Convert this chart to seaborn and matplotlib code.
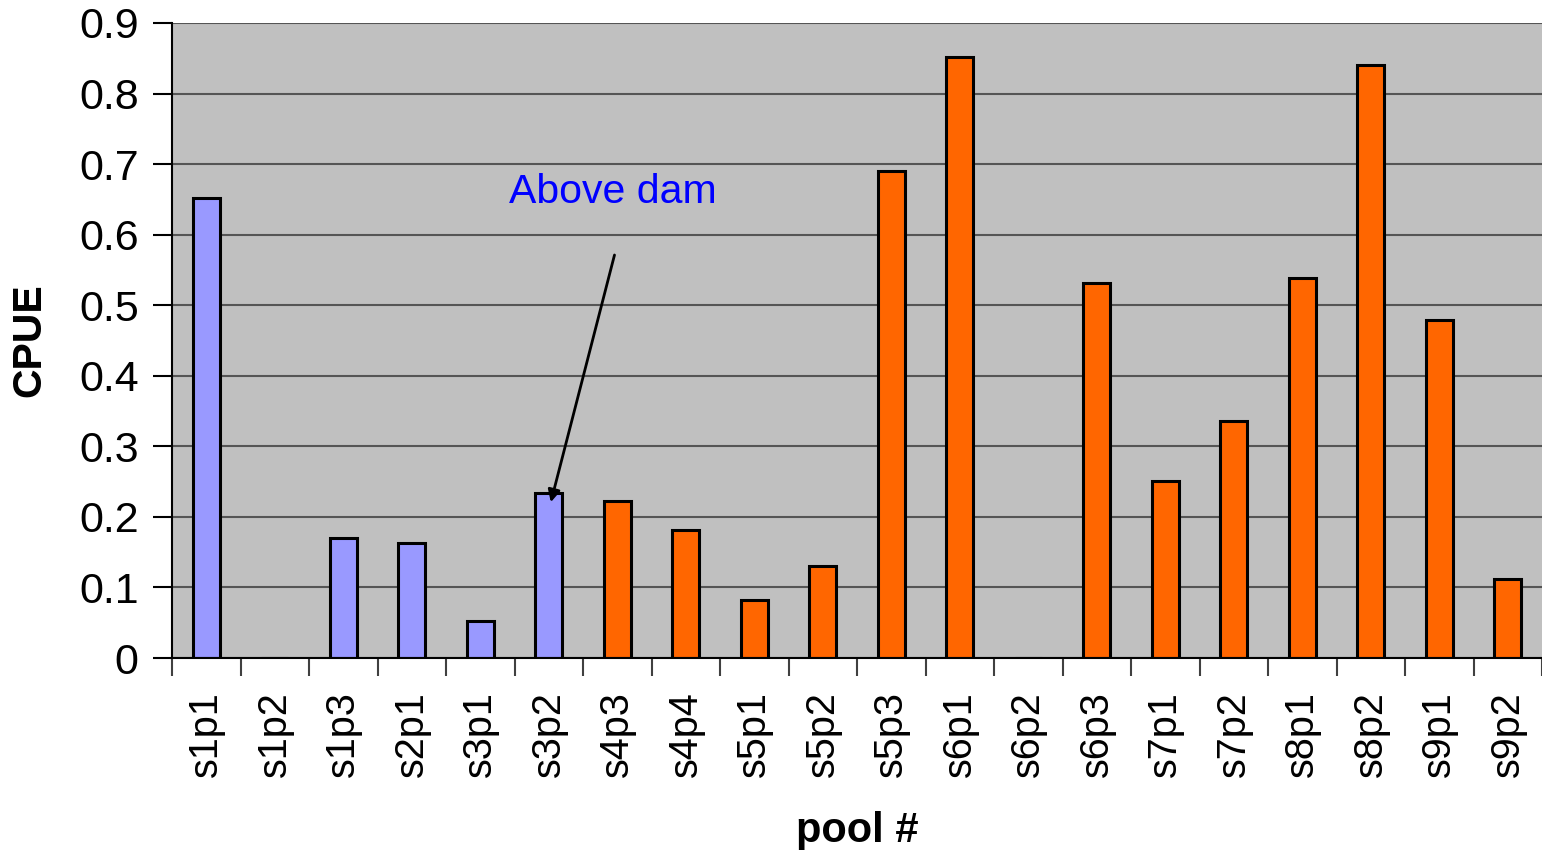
import numpy as np
import pandas as pd
import matplotlib
matplotlib.use("Agg")
import matplotlib.pyplot as plt
import seaborn as sns

pools = ["s1p1", "s1p2", "s1p3", "s2p1", "s3p1", "s3p2", "s4p3", "s4p4", "s5p1", "s5p2",
         "s5p3", "s6p1", "s6p2", "s6p3", "s7p1", "s7p2", "s8p1", "s8p2", "s9p1", "s9p2"]
cpue = [0.652, 0.0, 0.170, 0.163, 0.052, 0.234, 0.222, 0.181, 0.082, 0.130,
        0.690, 0.852, 0.0, 0.531, 0.251, 0.336, 0.539, 0.840, 0.479, 0.112]
location = ["Above dam"] * 6 + ["Below dam"] * 14
yticks = [0, 0.1, 0.2, 0.3, 0.4, 0.5, 0.6, 0.7, 0.8, 0.9]

df = pd.DataFrame({"pool": pools, "CPUE": cpue, "loc": location})

sns.set_style("white")
plt.rcParams["font.family"] = ["Liberation Sans", "DejaVu Sans"]
plt.rcParams["text.color"] = "black"
plt.rcParams["axes.labelcolor"] = "black"
plt.rcParams["xtick.color"] = "black"
plt.rcParams["ytick.color"] = "black"

fig = plt.figure(figsize=(15.42, 8.5), dpi=100)
ax = fig.add_axes([172 / 1542, (850 - 658) / 850, 1 - 172 / 1542, (658 - 23) / 850])
ax.set_facecolor("#C0C0C0")
ax.set_axisbelow(True)

sns.barplot(data=df, x="pool", y="CPUE", hue="loc", order=pools,
            palette={"Above dam": "#9999FF", "Below dam": "#FF6600"},
            saturation=1, dodge=False, width=0.4, edgecolor="black", linewidth=2.2,
            legend=False, ax=ax)

ax.set_xlim(-0.5, len(pools) - 0.5)
ax.set_ylim(0, 0.9)
ax.set_yticks(yticks)
ax.set_yticklabels([f"{v:g}" for v in yticks])
ax.yaxis.grid(True, color="#555555", linewidth=1.5)
ax.xaxis.grid(False)

ax.set_xticks(range(len(pools)))
ax.set_xticklabels(pools, rotation=90)
ax.set_xticks(np.arange(-0.5, len(pools), 1), minor=True)
ax.tick_params(axis="x", which="major", bottom=True, length=0, labelsize=28.5, pad=24,
               labelcolor="black")
ax.tick_params(axis="x", which="minor", bottom=True, length=13, width=1.5,
               color="#404040", direction="out")
ax.tick_params(axis="y", which="major", left=True, length=14, width=1.5, color="black",
               direction="out", labelsize=31, pad=10, labelcolor="black")

for s in ["top", "right"]:
    ax.spines[s].set_visible(False)
ax.spines["left"].set_color("black")
ax.spines["left"].set_linewidth(1.5)
ax.spines["bottom"].set_color("black")
ax.spines["bottom"].set_linewidth(1.5)

ax.set_xlabel("pool #", fontsize=30, fontweight="bold", labelpad=24, color="black")
ax.set_ylabel("CPUE", fontsize=29.5, fontweight="bold", labelpad=22, color="black")

ax.text(5.94, 0.66, "Above dam", color="#0000FF", fontsize=29.5, ha="center", va="center")
ax.annotate("", xy=(5.02, 0.217), xytext=(5.97, 0.575),
            arrowprops=dict(arrowstyle="-|>", color="black", lw=2, mutation_scale=18))

fig.savefig("out.png", dpi=100)
